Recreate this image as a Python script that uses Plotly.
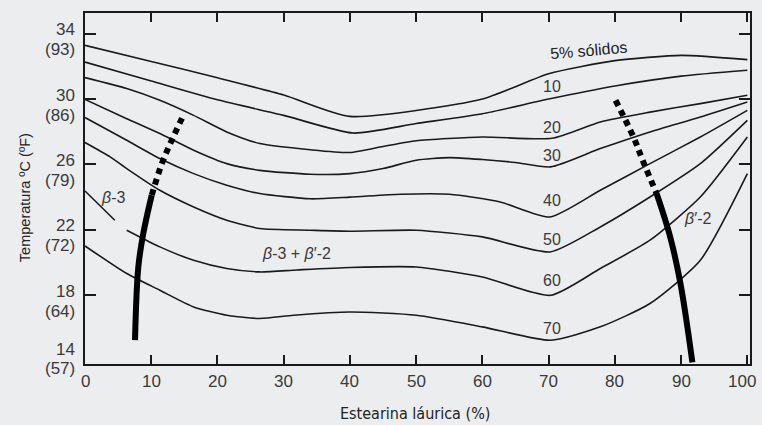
import plotly.graph_objects as go

# ---- data ----
x5 = [0, 10, 20, 30, 40, 60, 70, 80, 90, 100]
t5 = [33.28, 32.3, 31.3, 30.25, 28.94, 30.0, 31.55, 32.35, 32.67, 32.41]

x10 = [0, 10, 20, 30, 40.5, 50, 60, 70, 80, 90, 100]
t10 = [32.26, 31.1, 29.95, 29.0, 27.92, 28.5, 29.1, 30.0, 30.8, 31.4, 31.76]

x20 = [0, 6.3, 11.3, 16.4, 21.4, 26.4, 34, 40, 45, 50, 60, 70.5, 77.8, 85.3, 92.9, 100]
t20 = [31.31, 30.64, 29.92, 29.0, 27.99, 27.28, 26.9, 26.73, 27.1, 27.45, 27.68, 27.6, 28.6, 29.2, 29.72, 30.23]

x30 = [0, 6.3, 11.3, 16.4, 21.4, 26.4, 34, 40, 45, 50, 55, 60, 65, 70.3, 77.8, 85.3, 92.9, 100]
t30 = [29.98, 28.8, 27.89, 26.87, 26.05, 25.64, 25.4, 25.44, 25.75, 26.26, 26.42, 26.3, 26.12, 25.85, 26.97, 27.99, 28.9, 29.82]

x40 = [0, 6.3, 11.3, 16.4, 21.4, 26.4, 34, 40, 47.6, 55, 62.7, 70.2, 77.8, 85.3, 92.9, 100]
t40 = [28.87, 27.48, 26.36, 25.44, 24.73, 24.22, 23.9, 24.0, 24.18, 24.18, 23.71, 22.79, 24.42, 26.05, 27.68, 29.31]

x50 = [0, 3.8, 6.3, 11.3, 16.4, 21.4, 26.4, 34, 40, 50, 60, 70.2, 77.8, 85.3, 92.9, 100]
t50 = [27.34, 26.46, 25.75, 24.42, 23.4, 22.59, 22.08, 21.98, 21.92, 21.98, 21.57, 20.65, 22.18, 24.01, 26.05, 28.7]

x60 = [0, 4.5, None, 6.3, 11.3, 16.4, 21.4, 26.4, 32, 40, 50, 60, 70.3, 77.8, 85.3, 92.9, 100]
t60 = [24.38, 22.59, None, 21.98, 20.96, 20.14, 19.64, 19.43, 19.55, 19.7, 19.73, 19.12, 18.0, 19.64, 21.37, 24.01, 27.68]

x70 = [0, 6.3, 11.3, 16.4, 21.4, 26.4, 31.5, 40, 50, 60, 70.3, 77.8, 85.3, 92.9, 100]
t70 = [21.02, 19.33, 18.31, 17.29, 16.78, 16.58, 16.78, 16.98, 16.78, 16.07, 15.25, 16.07, 17.5, 20.14, 25.44]

curves = [(x5, t5), (x10, t10), (x20, t20), (x30, t30), (x40, t40), (x50, t50), (x60, t60), (x70, t70)]

# phase boundaries
left_solid_x = [7.55, 8.05, 8.8, 10.07]
left_solid_t = [15.26, 19.73, 21.78, 24.12]
left_dot_x = [10.07, 11.6, 13.1, 14.85]
left_dot_t = [24.12, 26.05, 27.48, 29.0]
right_solid_x = [86.3, 88.35, 89.9, 91.7]
right_solid_t = [24.22, 21.57, 18.72, 13.9]
right_dot_x = [80.1, 82.8, 84.3, 86.3]
right_dot_t = [29.92, 27.68, 26.15, 24.22]

# curve labels
label_text = ["10", "20", "30", "40", "50", "60", "70"]
label_x = [70.5] * 7
label_t = [30.74, 28.29, 26.56, 23.77, 21.43, 18.92, 15.97]

# ticks
x_ticks = [0, 10, 20, 30, 40, 50, 60, 70, 80, 90, 100]
x_tick_text = ["0", "10", "20", "30", "40", "50", "60", "70", "80", "90", "100"]
y_ticks_c = [34, 30, 26, 22, 18, 14]
y_ticks_f = ["(93)", "(86)", "(79)", "(72)", "(64)", "(57)"]

Y_MIN, Y_MAX = 13.8, 35.26

BG = "#ECEDEF"
INK = "#1a1a1a"
TXT = "#3a3a3a"
FONT = "Liberation Sans, Arial, sans-serif"
NARROW = "Liberation Sans Narrow, Arial Narrow, DejaVu Sans Condensed, sans-serif"

fig = go.Figure()
for xs, ts in curves:
    fig.add_trace(go.Scatter(x=xs, y=ts, mode="lines", connectgaps=False,
                             line=dict(color=INK, width=1.6, shape="spline", smoothing=0.6),
                             hoverinfo="skip", showlegend=False))

for xs, ts, dash in [(left_solid_x, left_solid_t, "solid"), (left_dot_x, left_dot_t, "6px,5px"),
                     (right_solid_x, right_solid_t, "solid"), (right_dot_x, right_dot_t, "6px,5px")]:
    fig.add_trace(go.Scatter(x=xs, y=ts, mode="lines",
                             line=dict(color="#000", width=6, dash=dash, shape="spline"),
                             hoverinfo="skip", showlegend=False))

ann = []
for t, x, y in zip(label_text, label_x, label_t):
    ann.append(dict(x=x, y=y, text=t, showarrow=False, font=dict(size=16, color=TXT, family=FONT)))
ann.append(dict(x=76.0, y=32.98, text="5% sólidos", textangle=-5, showarrow=False,
                font=dict(size=16, color="#222", family=FONT)))
ann.append(dict(x=92.4, y=22.69, text="<i>β</i>′-2", showarrow=False,
                font=dict(size=16, color=TXT, family=FONT)))
ann.append(dict(x=4.3, y=24.0, text="<i>β</i>-3", showarrow=False,
                font=dict(size=16, color=TXT, family=FONT)))
ann.append(dict(x=32.0, y=20.55, text="<i>β</i>-3 + <i>β</i>′-2", showarrow=False,
                font=dict(size=16, color=TXT, family=FONT)))

# y tick labels (°C over °F)
for c, f in zip(y_ticks_c, y_ticks_f):
    cs, fs = (4, -16) if c != 14 else (11, -8)
    ann.append(dict(x=0, xref="x", y=c, text=str(c), showarrow=False, xanchor="right",
                    xshift=-8, yshift=cs, font=dict(size=17, color=TXT, family=FONT)))
    ann.append(dict(x=0, xref="x", y=c, text=f, showarrow=False, xanchor="right",
                    xshift=-8, yshift=fs, font=dict(size=17, color=TXT, family=FONT)))

# x tick labels
for v, t in zip(x_ticks, x_tick_text):
    ann.append(dict(x=v, y=Y_MIN, text=t, showarrow=False, xanchor="center", yanchor="middle",
                    yshift=-17, xshift=(-5 if v == 100 else 0),
                    font=dict(size=17, color=TXT, family=FONT)))

ann.append(dict(xref="paper", yref="paper", x=0.496, y=-0.142, xanchor="center", yanchor="middle",
                text="Estearina láurica (%)",
                showarrow=False, font=dict(size=16, color="#222", family=NARROW)))
ann.append(dict(xref="paper", yref="paper", x=-0.090, y=0.473, xanchor="center", yanchor="middle",
                text="Temperatura ºC (ºF)",
                textangle=-90, showarrow=False, font=dict(size=14.5, color="#222", family=FONT)))

fig.update_layout(
    width=762, height=425, autosize=False,
    margin=dict(l=85, r=12, t=13, b=61),
    paper_bgcolor=BG, plot_bgcolor=BG,
    annotations=ann,
    xaxis=dict(range=[0, 100.4], showgrid=False, zeroline=False, automargin=False,
               showline=True, linecolor=INK, linewidth=2, mirror="ticks",
               ticks="inside", ticklen=9, tickwidth=2, tickcolor=INK,
               tickvals=x_ticks, showticklabels=False),
    yaxis=dict(range=[Y_MIN, Y_MAX], showgrid=False, zeroline=False, automargin=False,
               showline=True, linecolor=INK, linewidth=2, mirror="ticks",
               ticks="inside", ticklen=11, tickwidth=2, tickcolor=INK,
               tickvals=[18, 22, 26, 30, 34], showticklabels=False),
)

fig.write_html("out.html",
               config={"displayModeBar": False, "responsive": False},
               post_script="document.body.style.margin='0';document.body.style.overflow='hidden';document.body.style.background='" + BG + "';")
